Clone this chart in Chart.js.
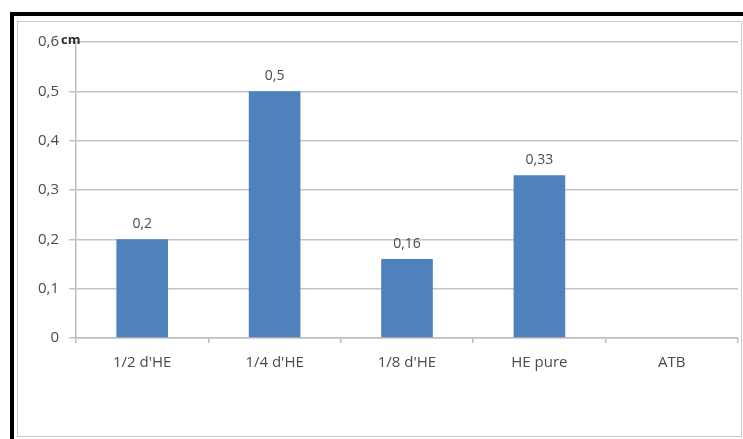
<!DOCTYPE html>
<html>
<head>
<meta charset="utf-8">
<script src="https://cdn.jsdelivr.net/npm/chart.js@4/dist/chart.umd.min.js"></script>
<style>
  html, body { margin: 0; padding: 0; background: #ffffff; }
  #wrap { position: relative; width: 743px; height: 439px; overflow: hidden; }
  #outer { position: absolute; left: 10px; top: 12px; width: 760px; height: 460px; border: 4px solid #000; box-sizing: border-box; }
  #inner { position: absolute; left: 17px; top: 21px; width: 725px; height: 416px; border: 1px solid #c8c8c8; box-sizing: border-box; }
  canvas { position: absolute; left: 0; top: 0; }
</style>
</head>
<body>
<div id="wrap">
  <div id="outer"></div>
  <div id="inner"></div>
  <canvas id="c" width="743" height="439"></canvas>
</div>
<script>
const categories = ["1/2 d'HE", "1/4 d'HE", "1/8 d'HE", "HE pure", "ATB"];
const values = [0.2, 0.5, 0.16, 0.33, null];
const yTicks = [0, 0.1, 0.2, 0.3, 0.4, 0.5, 0.6];
const yAxisUnit = "cm";

const fmt = v => String(v).replace('.', ',');
const FONT = "'Open Sans', sans-serif";
const TXT = '#4a4a4a';

const labelPlugin = {
  id: 'valueLabels',
  afterDatasetsDraw(chart) {
    const ctx = chart.ctx;
    const meta = chart.getDatasetMeta(0);
    ctx.save();
    ctx.font = "14px " + FONT;
    ctx.fillStyle = TXT;
    ctx.textAlign = 'center';
    ctx.textBaseline = 'bottom';
    meta.data.forEach((bar, i) => {
      const v = values[i];
      if (v === null || v === undefined) return;
      ctx.fillText(fmt(v), bar.x, bar.y - 8);
    });
    // unit title at top of y axis
    const y = chart.scales.y;
    ctx.font = "bold 13px " + FONT;
    ctx.fillStyle = '#2a2a2a';
    ctx.textAlign = 'left';
    ctx.textBaseline = 'middle';
    ctx.fillText(yAxisUnit, y.right - 15, y.getPixelForValue(yTicks[yTicks.length - 1]) - 2);
    ctx.restore();
  }
};

new Chart(document.getElementById('c'), {
  type: 'bar',
  data: {
    labels: categories,
    datasets: [{
      data: values,
      backgroundColor: '#4f81bd',
      borderWidth: 0,
      categoryPercentage: 1,
      barPercentage: 0.39
    }]
  },
  options: {
    responsive: false,
    animation: false,
    devicePixelRatio: 1,
    layout: { padding: { top: 42, right: 5, left: 0, bottom: 0 } },
    plugins: { legend: { display: false }, tooltip: { enabled: false } },
    scales: {
      x: {
        offset: true,
        grid: { display: true, offset: true, drawOnChartArea: false, drawTicks: true, tickLength: 5, color: '#bdbdbd', lineWidth: 1.5 },
        border: { display: true, color: '#bdbdbd', width: 1.5 },
        ticks: { color: TXT, font: { family: FONT, size: 15 }, padding: 11, maxRotation: 0 },
        afterFit(s) { s.height = 101; }
      },
      y: {
        min: 0, max: 0.6,
        afterBuildTicks(s) { s.ticks = yTicks.map(v => ({ value: v })); },
        grid: { color: '#c4c4c4', lineWidth: 1.5, drawTicks: true, tickLength: 7 },
        border: { display: true, color: '#bdbdbd', width: 1.5 },
        ticks: { color: TXT, font: { family: FONT, size: 15 }, padding: 10, callback: v => fmt(Math.round(v * 10) / 10) },
        afterFit(s) { s.width = 76; }
      }
    }
  },
  plugins: [labelPlugin]
});
</script>
</body>
</html>
